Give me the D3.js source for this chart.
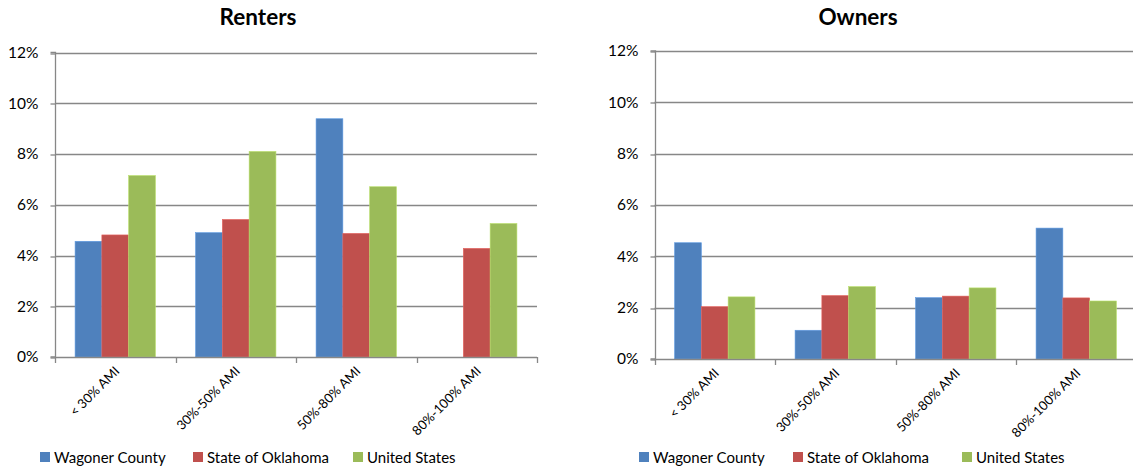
<!DOCTYPE html>
<html>
<head>
<meta charset="utf-8">
<script src="https://cdn.jsdelivr.net/npm/d3@7"></script>
<style>
  body { margin: 0; background: #fff; }
  svg { display: block; font-family: Lato, "Open Sans", sans-serif; }
</style>
</head>
<body>
<svg id="chart" width="1133" height="470"></svg>
<script>
// Income brackets (percent of area median income)
const categories = ["< 30% AMI", "30%-50% AMI", "50%-80% AMI", "80%-100% AMI"];
const seriesNames = ["Wagoner County", "State of Oklahoma", "United States"];
const seriesColors = ["#4F81BD", "#C0504D", "#9BBB59"];
const yTicks = [0, 2, 4, 6, 8, 10, 12];

// Share of households, percent; null = no value reported
const rentersWagoner  = [4.56, 4.90, 9.39, null];
const rentersOklahoma = [4.81, 5.42, 4.87, 4.28];
const rentersUS       = [7.15, 8.10, 6.71, 5.26];

const ownersWagoner  = [4.53, 1.12, 2.39, 5.10];
const ownersOklahoma = [2.04, 2.47, 2.45, 2.38];
const ownersUS       = [2.42, 2.82, 2.77, 2.26];

const panels = [
  { title: "Renters", series: [rentersWagoner, rentersOklahoma, rentersUS],
    x0: 55, x1: 537, yTop: 52.5, yBottom: 357, titleX: 258,
    legendX: [40, 193, 353] },
  { title: "Owners", series: [ownersWagoner, ownersOklahoma, ownersUS],
    x0: 654.5, x1: 1136.5, yTop: 51, yBottom: 359, titleX: 858,
    legendX: [639, 793, 962] }
];

const svg = d3.select("#chart");
const gridColor = "#878787";

panels.forEach(p => {
  const g = svg.append("g");

  const x = d3.scaleBand().domain(categories).range([p.x0, p.x1])
    .paddingInner(0.3333).paddingOuter(0.1667);
  const x1 = d3.scaleBand().domain(d3.range(seriesNames.length))
    .range([0, x.bandwidth()]);
  const y = d3.scaleLinear().domain([0, 12]).range([p.yBottom, p.yTop]);

  // horizontal gridlines
  g.selectAll("line.grid").data(yTicks.filter(t => t > 0)).join("line")
    .attr("x1", p.x0).attr("x2", p.x1)
    .attr("y1", d => Math.round(y(d)) + 0.5).attr("y2", d => Math.round(y(d)) + 0.5)
    .attr("stroke", gridColor).attr("stroke-width", 1.3);

  // y axis
  const yAxis = d3.axisLeft(y).tickValues(yTicks).tickSize(5).tickPadding(12)
    .tickFormat(d => d + "%");
  const ya = g.append("g").attr("transform", `translate(${Math.round(p.x0) + 0.5},0)`).call(yAxis);
  ya.select(".domain").attr("stroke", gridColor).attr("stroke-width", 1.3)
    .attr("d", `M-5,${p.yTop}H0V${p.yBottom}H-5`);
  ya.selectAll(".tick line").attr("stroke", gridColor).attr("stroke-width", 1.3)
    .attr("transform", d => `translate(0,${Math.round(y(d)) + 0.5 - y(d)})`);
  ya.selectAll(".tick text").attr("font-size", 15.5).attr("fill", "#000")
    .attr("font-family", "Lato, sans-serif");

  // bars
  seriesNames.forEach((name, si) => {
    g.selectAll(null).data(categories.map((c, ci) => ({ c, v: p.series[si][ci] }))
        .filter(d => d.v !== null)).join("rect")
      .attr("x", d => x(d.c) + x1(si))
      .attr("width", x1.bandwidth())
      .attr("y", d => y(d.v))
      .attr("height", d => y(0) - y(d.v))
      .attr("fill", seriesColors[si])
      .attr("stroke", d3.color(seriesColors[si]).brighter(0.5))
      .attr("stroke-width", 0.6);
  });

  // category axis with tick marks at category boundaries
  const bounds = d3.range(categories.length + 1)
    .map(i => p.x0 + i * (p.x1 - p.x0) / categories.length);
  g.append("line")
    .attr("x1", p.x0).attr("x2", p.x1)
    .attr("y1", Math.round(y(0)) + 0.5).attr("y2", Math.round(y(0)) + 0.5)
    .attr("stroke", gridColor).attr("stroke-width", 1.3);
  g.selectAll("line.ctick").data(bounds).join("line")
    .attr("x1", d => Math.round(d) + 0.5).attr("x2", d => Math.round(d) + 0.5)
    .attr("y1", Math.round(y(0))).attr("y2", Math.round(y(0)) + 6)
    .attr("stroke", gridColor).attr("stroke-width", 1.3);

  // rotated category labels
  g.selectAll("text.cat").data(categories).join("text")
    .attr("text-anchor", "end")
    .attr("font-size", 13)
    .attr("fill", "#000")
    .attr("transform", d => `translate(${x(d) + x.bandwidth() / 2 + 5},${y(0) + 15}) rotate(-45)`)
    .text(d => d);

  // title
  g.append("text").attr("x", p.titleX).attr("y", 25)
    .attr("text-anchor", "middle").attr("font-size", 22.5).attr("font-weight", "bold")
    .text(p.title);

  // legend
  seriesNames.forEach((name, si) => {
    const lx = p.legendX[si];
    g.append("rect").attr("x", lx).attr("y", 452).attr("width", 10).attr("height", 10)
      .attr("fill", seriesColors[si]);
    g.append("text").attr("x", lx + 14).attr("y", 463)
      .attr("font-size", 15).attr("fill", "#000").text(name);
  });
});
</script>
</body>
</html>
